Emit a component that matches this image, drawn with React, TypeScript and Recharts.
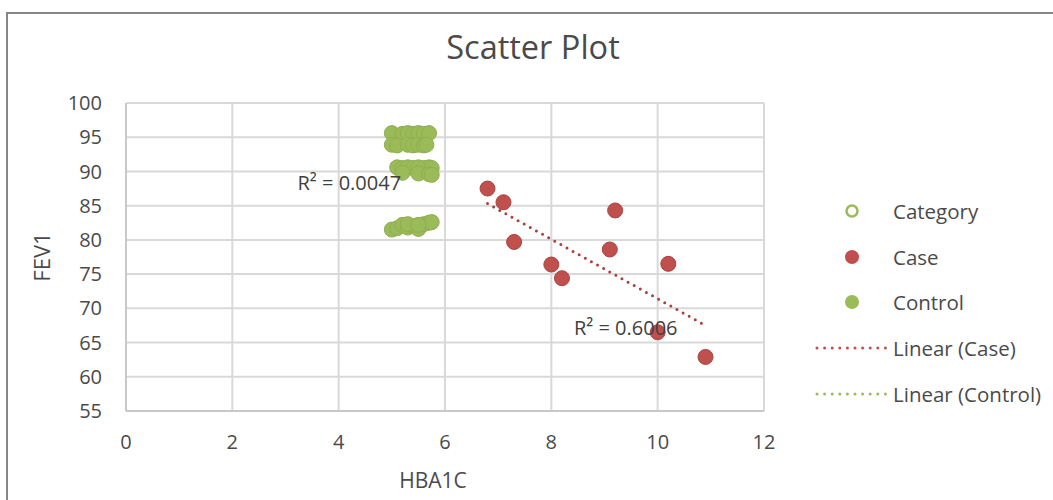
import React from "react";
import {
  ScatterChart,
  Scatter,
  XAxis,
  YAxis,
  CartesianGrid,
  Legend,
  ReferenceDot,
} from "recharts";

// Case group (HbA1c vs FEV1)
const caseHba1c = [6.8, 7.1, 7.3, 8.0, 8.2, 9.2, 9.1, 10.2, 10.0, 10.9];
const caseFev1 = [87.5, 85.5, 79.7, 76.4, 74.4, 84.3, 78.6, 76.5, 66.5, 62.9];

// Control group
const controlHba1c = [
  5.0, 5.2, 5.3, 5.4, 5.5, 5.6, 5.7,
  5.0, 5.1, 5.3, 5.4, 5.5, 5.6, 5.65,
  5.1, 5.2, 5.3, 5.4, 5.5, 5.6, 5.7, 5.75,
  5.2, 5.5, 5.7, 5.75,
  5.0, 5.1, 5.2, 5.3, 5.4, 5.5, 5.6, 5.7, 5.75, 5.3, 5.5,
];
const controlFev1 = [
  95.6, 95.5, 95.6, 95.5, 95.6, 95.5, 95.6,
  93.9, 93.8, 93.9, 93.8, 93.9, 93.8, 93.9,
  90.6, 90.5, 90.6, 90.5, 90.6, 90.5, 90.6, 90.5,
  89.8, 89.7, 89.6, 89.5,
  81.5, 81.7, 82.2, 81.8, 82.0, 81.6, 82.3, 82.5, 82.6, 82.3, 82.2,
];

// Trendline endpoints as drawn
const caseTrendX = [6.8, 10.9];
const caseTrendY = [85.3, 67.5];
const controlTrendX = [5.0, 5.75];
const controlTrendY = [90.1, 90.0];

const xTicks = [0, 2, 4, 6, 8, 10, 12];
const yTicks = [55, 60, 65, 70, 75, 80, 85, 90, 95, 100];

const r2Text = ["R² = 0.0047", "R² = 0.6006"];
const r2X = [4.2, 9.4];
const r2Y = [88.3, 67.2];

const legendNames = ["Category", "Case", "Control", "Linear (Case)", "Linear (Control)"];

const RED = "#C0504D";
const GREEN = "#9BBB59";
const FONT = "'Open Sans', sans-serif";
const TEXT = "#4a4a4a";

const toPoints = (xs: number[], ys: number[]) => xs.map((x, i) => ({ x, y: ys[i] }));

const caseData = toPoints(caseHba1c, caseFev1);
const controlData = toPoints(controlHba1c, controlFev1);
const caseTrend = toPoints(caseTrendX, caseTrendY);
const controlTrend = toPoints(controlTrendX, controlTrendY);

const dot = (fill: string, stroke: string) => (props: any) =>
  <circle cx={props.cx} cy={props.cy} r={7.5} fill={fill} stroke={stroke} strokeWidth={1} />;

const noDot = () => <g />;

function LegendBox() {
  return (
    <div style={{ fontFamily: FONT, fontSize: 20.5, color: TEXT }}>
      {legendNames.map((name, i) => (
        <div key={name} style={{ display: "flex", alignItems: "center", height: 45.7 }}>
          <svg width={83} height={20}>
            {i === 0 && <circle cx={42} cy={10} r={5.5} fill="#fff" stroke={GREEN} strokeWidth={2.5} />}
            {i === 1 && <circle cx={42} cy={10} r={7} fill={RED} />}
            {i === 2 && <circle cx={42} cy={10} r={7} fill={GREEN} />}
            {i >= 3 && (
              <line x1={7} y1={10} x2={77} y2={10}
                stroke={i === 3 ? RED : GREEN} strokeWidth={3}
                strokeDasharray="0 7.6" strokeLinecap="round" />
            )}
          </svg>
          <span style={{ whiteSpace: "nowrap" }}>{name}</span>
        </div>
      ))}
    </div>
  );
}

export default function App() {
  return (
    <div style={{ position: "absolute", left: 0, top: 0, width: 1053, height: 500, overflow: "hidden", background: "#fff" }}>
      <div style={{ position: "absolute", left: 6, top: 12, width: 1200, height: 700, border: "2px solid #868686" }} />
      <div style={{
        position: "absolute", left: 0, top: 25, width: 1066, textAlign: "center",
        fontFamily: FONT, fontSize: 32.5, color: TEXT, lineHeight: "44px",
      }}>
        Scatter Plot
      </div>
      <div style={{ position: "absolute", left: 0, top: 0 }}>
        <ScatterChart
          width={1053}
          height={500}
          margin={{ top: 103, right: 289, bottom: 29, left: 26 }}
        >
          <CartesianGrid stroke="#d9d9d9" strokeWidth={2} />
          <XAxis
            type="number"
            dataKey="x"
            domain={[0, 12]}
            ticks={xTicks}
            height={60}
            tickLine={false}
            tickMargin={18}
            axisLine={{ stroke: "#c8c8c8", strokeWidth: 2 }}
            tick={{ fill: TEXT, fontSize: 20, fontFamily: FONT }}
            label={{ value: "HBA1C", position: "bottom", offset: 2, dx: -12, fill: TEXT, fontSize: 21, fontFamily: FONT }}
          />
          <YAxis
            type="number"
            dataKey="y"
            domain={[55, 100]}
            ticks={yTicks}
            width={100}
            tickLine={false}
            tickMargin={18}
            axisLine={{ stroke: "#c8c8c8", strokeWidth: 2 }}
            tick={{ fill: TEXT, fontSize: 20, fontFamily: FONT }}
            label={{
              value: "FEV1", angle: -90, position: "insideLeft", offset: 16,
              fill: TEXT, fontSize: 22, fontFamily: FONT, style: { textAnchor: "middle" },
            }}
          />
          <Legend
            layout="horizontal"
            verticalAlign="middle"
            align="center"
            wrapperStyle={{ left: 810, top: 188, width: 243 }}
            content={() => <LegendBox />}
          />
          <Scatter name="Control trend" data={controlTrend} shape={noDot} isAnimationActive={false}
            line={{ stroke: GREEN, strokeWidth: 3, strokeDasharray: "0 7", strokeLinecap: "round" }} />
          <Scatter name="Control" data={controlData} shape={dot(GREEN, "#8FAE52")} isAnimationActive={false} />
          <Scatter name="Case" data={caseData} shape={dot(RED, "#A8433F")} isAnimationActive={false} />
          <Scatter name="Case trend" data={caseTrend} shape={noDot} isAnimationActive={false}
            line={{ stroke: "#A8403C", strokeWidth: 3, strokeDasharray: "0 7", strokeLinecap: "round" }} />
          {r2Text.map((t, i) => (
            <ReferenceDot key={t} x={r2X[i]} y={r2Y[i]} r={0} fill="none" stroke="none"
              label={{ value: t, position: "center", fill: "#404040", fontSize: 20, fontFamily: FONT }} />
          ))}
        </ScatterChart>
      </div>
    </div>
  );
}
